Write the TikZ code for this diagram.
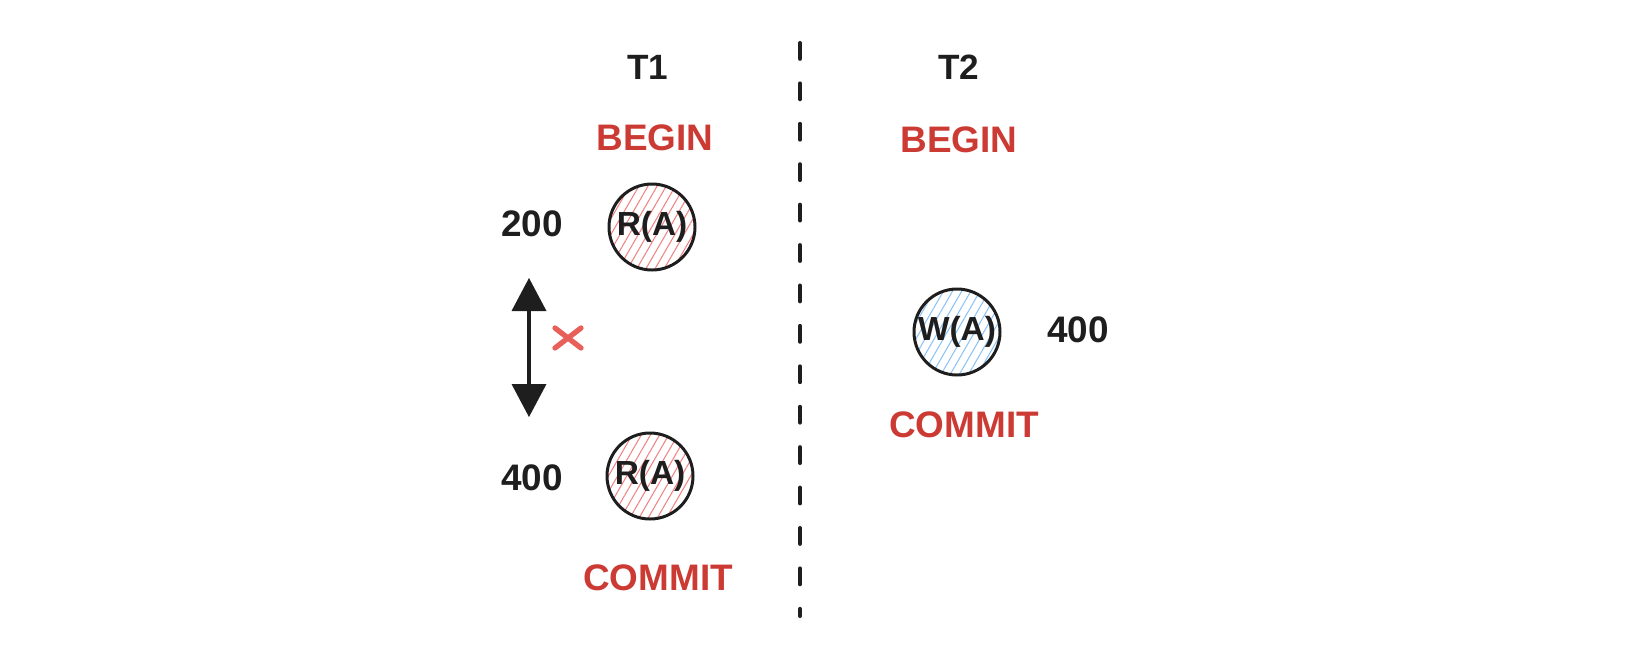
\documentclass[tikz,border=0pt]{standalone}
\usepackage{fontspec}
\setmainfont{Liberation Sans}
\usetikzlibrary{patterns.meta}
\definecolor{inkred}{RGB}{204,58,52}
\definecolor{crossred}{RGB}{232,96,90}
\definecolor{hatchred}{RGB}{240,130,130}
\definecolor{hatchblue}{RGB}{140,195,245}
\definecolor{ink}{RGB}{30,30,30}
\begin{document}
\begin{tikzpicture}[scale=0.2,
		every node/.style={inner sep=0pt, text=ink},
		txlabel/.style={font=\fontsize{20}{22}\selectfont\bfseries},
		stateword/.style={font=\fontsize{21}{24}\selectfont\bfseries, text=inkred},
		value/.style={font=\fontsize{21}{24}\selectfont\bfseries},
		opnode/.style={circle, draw=ink, line width=1.7pt, minimum size=1.72cm, font=\fontsize{19}{22}\selectfont\bfseries},
		readop/.style={opnode, pattern={Lines[angle=60,distance=4.5pt,line width=0.6pt]}, pattern color=hatchred},
		writeop/.style={opnode, pattern={Lines[angle=60,distance=4.5pt,line width=0.6pt]}, pattern color=hatchblue}]
			\useasboundingbox (0,0) rectangle (165.2,-66);
			% separator
			\coordinate (septop) at (80.0,-4.3);
			\coordinate (sepbot) at (80.0,-61.6);
			\draw [ink, line width=2.3pt, line cap=round, dash pattern=on 9pt off 14pt] (septop) -- (sepbot);
			% T1 column
			\node [txlabel] (tone) at (64.8,-6.7) {T1};
			\node [stateword] (beginone) at (65.5,-13.8) {BEGIN};
			\node [readop] (readfirst) at (65.2,-22.7) {R(A)};
			\node [value] (valfirst) at (53.2,-22.4) {200};
			\node [readop] (readsecond) at (65.0,-47.6) {R(A)};
			\node [value] (valsecond) at (53.2,-47.8) {400};
			\node [stateword] (commitone) at (65.8,-57.8) {COMMIT};
			% T2 column
			\node [txlabel] (ttwo) at (95.9,-6.7) {T2};
			\node [stateword] (begintwo) at (95.9,-14.0) {BEGIN};
			\node [writeop] (writeop) at (95.7,-33.2) {W(A)};
			\node [value] (valwrite) at (107.8,-33.0) {400};
			\node [stateword] (committwo) at (96.4,-42.5) {COMMIT};
			% non-repeatable read
			\coordinate (uptip) at (52.9,-27.8);
			\coordinate (downtip) at (52.9,-41.7);
			\draw [ink, line width=2.3pt] (52.9,-30.5) -- (52.9,-39.0);
			\fill [ink] (uptip) -- (51.15,-31.1) -- (54.65,-31.1);
			\fill [ink] (downtip) -- (51.15,-38.4) -- (54.65,-38.4);
			\coordinate (cross) at (56.8,-33.8);
			\draw [crossred, line width=3pt, line cap=round] ([shift={(-1.3,1.0)}]cross) -- ([shift={(1.3,-1.0)}]cross);
			\draw [crossred, line width=3pt, line cap=round] ([shift={(-1.3,-1.0)}]cross) -- ([shift={(1.3,1.0)}]cross);
		\end{tikzpicture}
\end{document}
